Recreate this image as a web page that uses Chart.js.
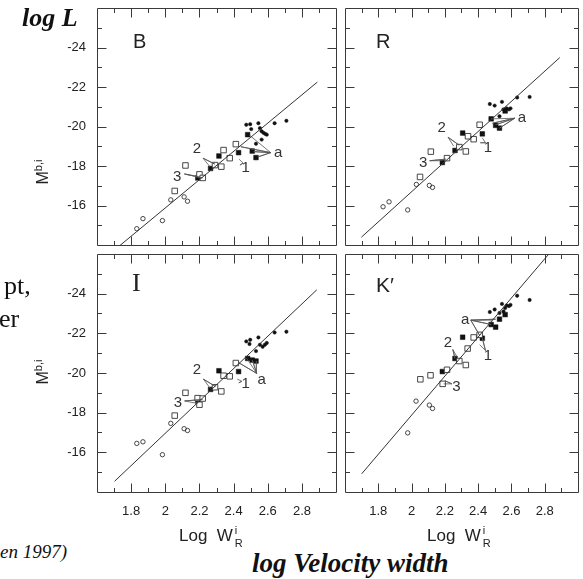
<!DOCTYPE html>
<html><head><meta charset="utf-8">
<script src="https://cdn.jsdelivr.net/npm/chart.js@4.4.1/dist/chart.umd.min.js"></script>
<style>
html,body{margin:0;padding:0;background:#fff;}
body{width:583px;height:579px;position:relative;overflow:hidden;}
canvas{position:absolute;}
.t{position:absolute;white-space:nowrap;color:#111;}
.sbi{font-family:'Liberation Serif','Times New Roman',serif;font-weight:bold;font-style:italic;font-size:26px;line-height:30px;}
.sr{font-family:'Liberation Serif','Times New Roman',serif;font-size:26px;line-height:30px;}
.si{font-family:'Liberation Serif','Times New Roman',serif;font-style:italic;font-size:19px;line-height:22px;}
.pl{font-family:'Liberation Sans',Arial,sans-serif;font-size:20px;line-height:24px;color:#222;}
.xt{font-family:'Liberation Sans',Arial,sans-serif;font-size:17px;line-height:20px;color:#222;}
.ir{display:inline-block;position:relative;width:10px;height:20px;vertical-align:top;}
.ir .i{position:absolute;left:2px;top:-3px;font-size:11px;line-height:14px;}
.ir .r{position:absolute;left:2px;top:10px;font-size:11px;line-height:14px;}
.yt{position:absolute;white-space:nowrap;transform:translate(-50%,-50%) rotate(-90deg);font-family:'Liberation Sans',Arial,sans-serif;font-size:16px;line-height:18px;color:#222;}
.yt sup{font-size:11px;line-height:0;vertical-align:6px;}
</style></head><body>
<canvas id="cB" width="341" height="250" style="left:0;top:0;width:341px;height:250px"></canvas>
<canvas id="cR" width="243" height="250" style="left:340px;top:0;width:243px;height:250px"></canvas>
<canvas id="cI" width="341" height="273" style="left:0;top:249px;width:341px;height:273px"></canvas>
<canvas id="cK" width="243" height="273" style="left:340px;top:249px;width:243px;height:273px"></canvas>

<div class="t sbi" style="left:22px;top:3px">log L</div>
<div class="t sr" style="left:4px;top:271px">pt,</div>
<div class="t sr" style="left:-1px;top:304px">er</div>
<div class="t si" style="left:0px;top:541px">en 1997)</div>
<div class="t sbi" style="left:252px;top:548px;font-size:27px">log Velocity width</div>

<div class="t pl" style="left:133px;top:29px">B</div>
<div class="t pl" style="left:376px;top:29px">R</div>
<div class="t sr" style="left:132px;top:268px;color:#222">I</div>
<div class="t pl" style="left:376px;top:273px;font-size:21px">K′</div>

<div class="yt" style="left:43px;top:172px">M<sup>b,i</sup></div>
<div class="yt" style="left:43px;top:372px">M<sup>b,i</sup></div>

<div class="t xt" style="left:179px;top:526px">Log&nbsp;&nbsp;W<span class="ir"><span class="i">i</span><span class="r">R</span></span></div>
<div class="t xt" style="left:427px;top:526px">Log&nbsp;&nbsp;W<span class="ir"><span class="i">i</span><span class="r">R</span></span></div>

<script>
// ---- axes ----
const xMin = 1.6, xMax = 3.0;
const yMin = -26, yMax = -14;
const xMajorTicks = [1.8, 2.0, 2.2, 2.4, 2.6, 2.8];
const xMinorTicks = [1.7, 1.9, 2.1, 2.3, 2.5, 2.7, 2.9];
const xTickLabels = ['1.8', '2', '2.2', '2.4', '2.6', '2.8'];
const yMajorTicks = [-24, -22, -20, -18, -16];
const yMinorTicks = [-25, -23, -21, -19, -17, -15];
const yTickLabels = ['-24', '-22', '-20', '-18', '-16'];

// ---- B band ----
const bLine = [[1.73, -13.95], [2.89, -22.25]];
const bOpenCircles = [[1.833,-14.83],[1.869,-15.34],[1.983,-15.24],[2.032,-16.29],[2.110,-16.44],[2.130,-16.22]];
const bOpenSquares = [[2.055,-16.74],[2.118,-18.03],[2.200,-17.58],[2.219,-17.40],[2.291,-18.05],[2.328,-17.97],[2.341,-18.81],[2.377,-18.40],[2.413,-19.11]];
const bFilledSquares = [[2.190,-17.40],[2.265,-17.88],[2.314,-18.51],[2.429,-18.68],[2.482,-19.59],[2.509,-18.76],[2.531,-18.43]];
const bFilledCircles = [[2.474,-20.09],[2.497,-20.12],[2.503,-19.87],[2.545,-20.17],[2.554,-19.92],[2.564,-19.76],[2.575,-19.68],[2.585,-19.63],[2.594,-19.59],[2.531,-19.13],[2.564,-19.34],[2.640,-20.17],[2.709,-20.29]];
const bNoteTexts = ['2', '3', '1', 'a'];
const bNoteAt = [[2.185,-18.88],[2.070,-17.43],[2.470,-17.93],[2.661,-18.68]];
const bNoteApex = [[2.221,-18.40],[2.112,-17.60],[2.455,-18.15],[2.617,-18.68]];
const bNoteEnds = [
  [[2.261,-17.97],[2.290,-18.10]],
  [[2.189,-17.48],[2.217,-17.40]],
  [[2.432,-18.35],[2.437,-18.05]],
  [[2.493,-19.56],[2.442,-18.98],[2.518,-18.73],[2.541,-18.46]]
];

// ---- R band ----
const rLine = [[1.699, -14.40], [2.890, -23.49]];
const rOpenCircles = [[1.829,-15.94],[1.865,-16.19],[1.977,-15.78],[2.029,-17.07],[2.107,-17.02],[2.126,-16.92]];
const rOpenSquares = [[2.051,-17.45],[2.116,-18.73],[2.213,-18.40],[2.287,-18.96],[2.326,-18.74],[2.339,-19.51],[2.373,-19.36],[2.409,-20.09]];
const rFilledSquares = [[2.185,-18.18],[2.261,-18.79],[2.307,-19.67],[2.425,-19.63],[2.478,-20.39],[2.505,-20.06],[2.528,-19.92],[2.562,-20.79]];
const rFilledCircles = [[2.470,-21.14],[2.499,-21.06],[2.543,-21.25],[2.528,-20.52],[2.552,-20.87],[2.571,-20.92],[2.585,-20.87],[2.594,-20.92],[2.634,-21.47],[2.709,-21.50]];
const rNoteTexts = ['2', '3', '1', 'a'];
const rNoteAt = [[2.181,-19.92],[2.070,-18.18],[2.459,-18.93],[2.663,-20.46]];
const rNoteApex = [[2.219,-19.46],[2.109,-18.27],[2.444,-19.18],[2.619,-20.42]];
const rNoteEnds = [
  [[2.253,-19.01],[2.286,-19.06]],
  [[2.185,-18.27],[2.206,-18.35]],
  [[2.425,-19.43],[2.413,-19.18]],
  [[2.476,-20.39],[2.505,-20.09],[2.528,-19.92],[2.486,-20.17]]
];

// ---- I band ----
const iLine = [[1.703, -14.54], [2.887, -24.19]];
const iOpenCircles = [[1.833,-16.45],[1.869,-16.53],[1.983,-15.88],[2.032,-17.46],[2.110,-17.19],[2.130,-17.10]];
const iOpenSquares = [[2.055,-17.85],[2.118,-19.00],[2.189,-18.73],[2.200,-18.40],[2.219,-18.71],[2.291,-19.28],[2.328,-19.07],[2.341,-19.86],[2.377,-19.83],[2.413,-20.50]];
const iFilledSquares = [[2.190,-18.59],[2.265,-19.17],[2.314,-20.11],[2.429,-20.07],[2.482,-20.73],[2.509,-20.65],[2.531,-20.60]];
const iFilledCircles = [[2.474,-21.59],[2.497,-21.67],[2.493,-21.46],[2.545,-21.79],[2.531,-21.10],[2.554,-21.42],[2.570,-21.32],[2.583,-21.42],[2.594,-21.51],[2.640,-22.04],[2.709,-22.08]];
const iNoteTexts = ['2', '3', '1', 'a'];
const iNoteAt = [[2.185,-20.14],[2.074,-18.49],[2.470,-19.44],[2.564,-19.66]];
const iNoteApex = [[2.223,-19.69],[2.113,-18.59],[2.448,-19.58],[2.535,-19.98]];
const iNoteEnds = [
  [[2.265,-19.20],[2.293,-19.32]],
  [[2.189,-18.46],[2.217,-18.66]],
  [[2.421,-19.69],[2.430,-19.50]],
  [[2.474,-20.77],[2.429,-20.52],[2.509,-20.65],[2.531,-20.60]]
];

// ---- K' band ----
const kLine = [[1.701, -14.92], [2.83, -26.05]];
const kOpenCircles = [[1.977,-16.98],[2.027,-18.58],[2.107,-18.38],[2.126,-18.21]];
const kOpenSquares = [[2.053,-19.68],[2.114,-19.88],[2.187,-19.45],[2.213,-20.16],[2.326,-20.40],[2.287,-20.60],[2.337,-21.23],[2.373,-21.79],[2.409,-21.92]];
const kFilledSquares = [[2.185,-20.07],[2.261,-20.73],[2.307,-21.80],[2.425,-21.75],[2.478,-22.44],[2.505,-22.31],[2.528,-22.71],[2.562,-22.94]];
const kFilledCircles = [[2.470,-23.07],[2.499,-23.20],[2.543,-23.48],[2.528,-23.02],[2.552,-23.10],[2.562,-23.27],[2.571,-23.40],[2.585,-23.37],[2.594,-23.43],[2.634,-23.89],[2.709,-23.68]];
const kNoteTexts = ['a', '2', '1', '3'];
const kNoteAt = [[2.322,-22.66],[2.219,-21.51],[2.459,-20.85],[2.269,-19.31]];
const kNoteApex = [[2.356,-22.66],[2.248,-21.18],[2.444,-21.13],[2.242,-19.45]];
const kNoteEnds = [
  [[2.482,-22.66],[2.505,-22.71],[2.409,-21.89],[2.478,-22.44]],
  [[2.276,-20.77],[2.261,-20.73]],
  [[2.409,-21.42],[2.425,-21.75]],
  [[2.193,-19.45],[2.200,-19.61]]
];

// ---- styles ----
const FRAME = '#3a3a3a';
const INK = '#111';
const SANS = "'Liberation Sans', Arial, sans-serif";

const pts = a => a.map(p => ({x: p[0], y: p[1]}));
function fan(apex, ends) {
  const out = [];
  ends.forEach(e => { out.push({x: e[0], y: e[1]}); out.push({x: apex[0], y: apex[1]}); });
  return out;
}

const frameTicks = {
  id: 'frameTicks',
  beforeDatasetsDraw(chart) {
    const {ctx, chartArea: a, scales: {x, y}} = chart;
    const L = Math.round(a.left) + 0.5, R = Math.round(a.right) + 0.5;
    const T = Math.round(a.top) + 0.5, B = Math.round(a.bottom) + 0.5;
    ctx.save();
    ctx.strokeStyle = FRAME; ctx.lineWidth = 1;
    ctx.beginPath();
    ctx.moveTo(L, T); ctx.lineTo(R, T); ctx.lineTo(R, B); ctx.lineTo(L, B); ctx.closePath();
    const yt = (v, len) => { const p = Math.round(y.getPixelForValue(v)) + 0.5; ctx.moveTo(L, p); ctx.lineTo(L + len, p); ctx.moveTo(R, p); ctx.lineTo(R - len, p); };
    const xt = (v, len) => { const p = Math.round(x.getPixelForValue(v)) + 0.5; ctx.moveTo(p, B); ctx.lineTo(p, B - len); ctx.moveTo(p, T); ctx.lineTo(p, T + len); };
    yMajorTicks.forEach(v => yt(v, 9));
    yMinorTicks.forEach(v => yt(v, 4.5));
    xMajorTicks.forEach(v => xt(v, 9));
    xMinorTicks.forEach(v => xt(v, 4.5));
    ctx.stroke();
    ctx.restore();
  }
};

function notesPlugin(texts, at) {
  return {
    id: 'notes',
    afterDatasetsDraw(chart) {
      const {ctx, scales: {x, y}} = chart;
      ctx.save();
      ctx.fillStyle = '#333';
      ctx.font = '15px ' + SANS;
      ctx.textAlign = 'center'; ctx.textBaseline = 'middle';
      texts.forEach((t, i) => ctx.fillText(t, x.getPixelForValue(at[i][0]), y.getPixelForValue(at[i][1])));
      ctx.restore();
    }
  };
}

function panel(id, d, showX, showY, padding) {
  const datasets = [
    {data: pts(d.line), showLine: true, borderColor: '#333', borderWidth: 1, pointRadius: 0, fill: false},
  ];
  d.apex.forEach((ap, i) => datasets.push({data: fan(ap, d.ends[i]), showLine: true, borderColor: '#555', borderWidth: 0.8, pointRadius: 0, fill: false}));
  datasets.push(
    {data: pts(d.oc), pointStyle: 'circle', pointRadius: 2.2, borderWidth: 0.9, borderColor: '#333', backgroundColor: 'rgba(0,0,0,0)'},
    {data: pts(d.os), pointStyle: 'rect', pointRadius: 3.9, borderWidth: 0.9, borderColor: '#333', backgroundColor: 'rgba(255,255,255,1)'},
    {data: pts(d.fs), pointStyle: 'rect', pointRadius: 3.3, borderWidth: 0.5, borderColor: INK, backgroundColor: INK},
    {data: pts(d.fc), pointStyle: 'circle', pointRadius: 1.7, borderWidth: 0.5, borderColor: INK, backgroundColor: INK}
  );
  new Chart(document.getElementById(id), {
    type: 'scatter',
    data: {datasets},
    options: {
      responsive: false, animation: false, devicePixelRatio: 1, events: [],
      layout: {padding},
      plugins: {legend: {display: false}, tooltip: {enabled: false}},
      scales: {
        x: {
          type: 'linear', min: xMin, max: xMax, display: showX,
          grid: {display: false, drawTicks: false}, border: {display: false},
          ticks: {font: {family: SANS, size: 13}, color: '#222', padding: 12, maxRotation: 0, autoSkip: false,
                  callback: (v, i) => xTickLabels[i]},
          afterBuildTicks: s => { s.ticks = xMajorTicks.map(v => ({value: v})); },
          afterFit: s => { s.height = showX ? 30 : 0; s.paddingLeft = 0; s.paddingRight = 0; s.paddingTop = 0; s.paddingBottom = 0; }
        },
        y: {
          type: 'linear', min: yMin, max: yMax, reverse: true, display: showY,
          grid: {display: false, drawTicks: false}, border: {display: false},
          ticks: {font: {family: SANS, size: 13}, color: '#222', padding: 11, autoSkip: false,
                  callback: (v, i) => yTickLabels[i]},
          afterBuildTicks: s => { s.ticks = yMajorTicks.map(v => ({value: v})); },
          afterFit: s => { s.width = showY ? 97 : 0; s.paddingLeft = 0; s.paddingRight = 0; s.paddingTop = 0; s.paddingBottom = 0; }
        }
      }
    },
    plugins: [frameTicks, notesPlugin(d.texts, d.at)]
  });
}

panel('cB', {line: bLine, oc: bOpenCircles, os: bOpenSquares, fs: bFilledSquares, fc: bFilledCircles,
  texts: bNoteTexts, at: bNoteAt, apex: bNoteApex, ends: bNoteEnds}, false, true, {top: 8, right: 1, bottom: 1, left: 0});
panel('cR', {line: rLine, oc: rOpenCircles, os: rOpenSquares, fs: rFilledSquares, fc: rFilledCircles,
  texts: rNoteTexts, at: rNoteAt, apex: rNoteApex, ends: rNoteEnds}, false, false, {top: 8, right: 1, bottom: 1, left: 0});
panel('cI', {line: iLine, oc: iOpenCircles, os: iOpenSquares, fs: iFilledSquares, fc: iFilledCircles,
  texts: iNoteTexts, at: iNoteAt, apex: iNoteApex, ends: iNoteEnds}, true, true, {top: 0, right: 1, bottom: 0, left: 0});
panel('cK', {line: kLine, oc: kOpenCircles, os: kOpenSquares, fs: kFilledSquares, fc: kFilledCircles,
  texts: kNoteTexts, at: kNoteAt, apex: kNoteApex, ends: kNoteEnds}, true, false, {top: 0, right: 1, bottom: 0, left: 0});
</script>
</body></html>
